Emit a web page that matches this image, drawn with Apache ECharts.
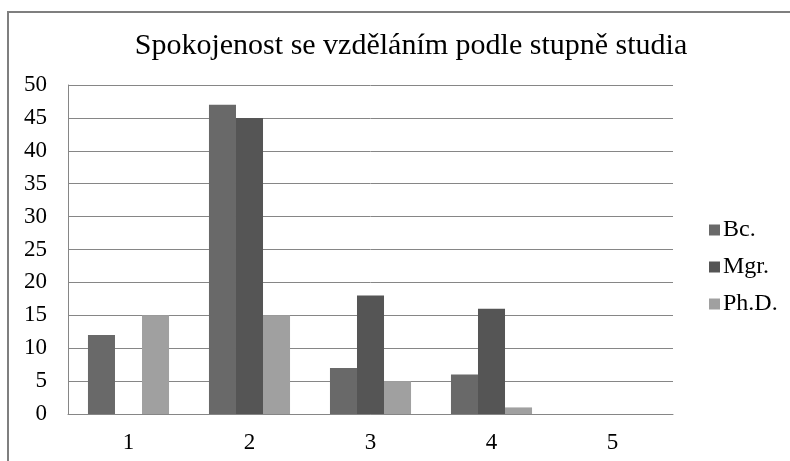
<!DOCTYPE html>
<html>
<head>
<meta charset="utf-8">
<script src="https://cdn.jsdelivr.net/npm/echarts@6/dist/echarts.min.js"></script>
<style>
  html, body { margin: 0; padding: 0; background: #fff; }
  #chart { width: 790px; height: 461px; }
</style>
</head>
<body>
<div id="chart"></div>
<script>
const categories = ["1", "2", "3", "4", "5"];
const bc = [12, 47, 7, 6, 0];
const mgr = [0, 45, 18, 16, 0];
const phd = [15, 15, 5, 1, 0];

const colors = ["#696969", "#555555", "#a0a0a0"];
const serif = "Liberation Serif";

const chart = echarts.init(document.getElementById("chart"));

chart.setOption({
  animation: false,
  color: colors,
  title: {
    text: "Spokojenost se vzděláním podle stupně studia",
    left: 406,
    textAlign: "center",
    top: 26,
    textStyle: {
      fontFamily: serif,
      fontWeight: "normal",
      fontSize: 30,
      color: "#000",
    },
  },
  graphic: [
    {
      type: "rect",
      shape: { x: 8, y: 12, width: 900, height: 600 },
      style: { fill: "none", stroke: "#7f7f7f", lineWidth: 2 },
      silent: true,
    },
  ],
  legend: {
    orient: "vertical",
    left: 704,
    top: 213,
    itemWidth: 11,
    itemHeight: 11,
    itemGap: 13,
    icon: "rect",
    textStyle: { fontFamily: serif, fontSize: 24, color: "#000", padding: [0, 0, 0, -2] },
    data: ["Bc.", "Mgr.", "Ph.D."],
  },
  grid: { left: 68, right: 117, top: 85, bottom: 47 },
  xAxis: {
    type: "category",
    data: categories,
    axisTick: { show: false },
    axisLine: { lineStyle: { color: "#868686" } },
    axisLabel: { fontFamily: serif, fontSize: 23, color: "#000", margin: 17 },
  },
  yAxis: {
    type: "value",
    min: 0,
    max: 50,
    interval: 5,
    axisLine: { show: true, lineStyle: { color: "#868686" } },
    axisTick: { show: false },
    splitLine: { lineStyle: { color: "#868686" } },
    axisLabel: { fontFamily: serif, fontSize: 23, color: "#000", margin: 21 },
  },
  series: [
    { name: "Bc.", type: "bar", data: bc, barGap: "0%", barCategoryGap: "33%" },
    { name: "Mgr.", type: "bar", data: mgr },
    { name: "Ph.D.", type: "bar", data: phd },
  ],
});
</script>
</body>
</html>
